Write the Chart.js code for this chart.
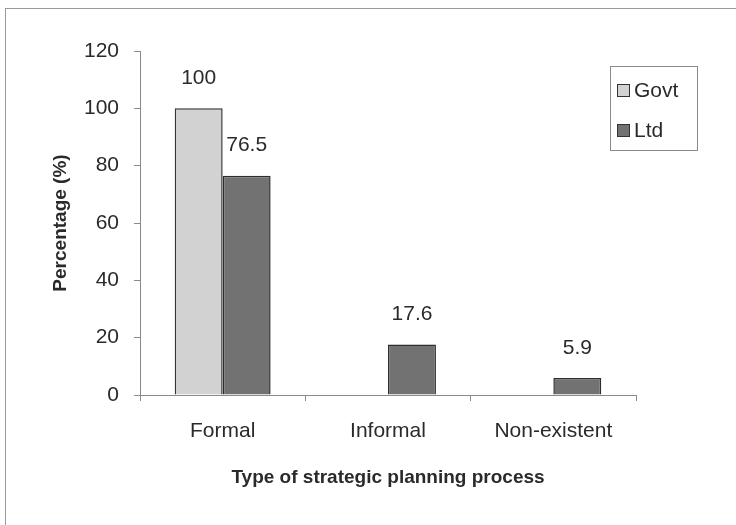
<!DOCTYPE html>
<html>
<head>
<meta charset="utf-8">
<script src="https://cdn.jsdelivr.net/npm/chart.js@4"></script>
<style>
  html, body { margin: 0; padding: 0; background: #fff; }
  #wrap { width: 736px; height: 525px; position: relative; }
</style>
</head>
<body>
<div id="wrap"><canvas id="planChart" width="736" height="525"></canvas></div>
<script>
const categories = ["Formal", "Informal", "Non-existent"];
const govtValues = [100, 0, 0];
const ltdValues = [76.5, 17.6, 5.9];
const seriesNames = ["Govt", "Ltd"];
const yTicks = [0, 20, 40, 60, 80, 100, 120];

const FONT = "'Liberation Sans', Arial, sans-serif";
const TEXT = "#2a2a2a";

// frame around the whole figure, value labels and the boxed legend
const decorations = {
    id: "decorations",
    beforeDraw(chart) {
        const ctx = chart.ctx;
        ctx.save();
        ctx.strokeStyle = "#9a9a9a";
        ctx.lineWidth = 1;
        ctx.strokeRect(5.5, 8.5, 760, 540);
        ctx.restore();
    },
    afterDatasetsDraw(chart) {
        const ctx = chart.ctx;
        ctx.save();
        ctx.font = "21px " + FONT;
        ctx.fillStyle = TEXT;
        ctx.textAlign = "center";
        ctx.textBaseline = "middle";
        chart.data.datasets.forEach((ds, i) => {
            chart.getDatasetMeta(i).data.forEach((bar, j) => {
                const v = ds.data[j];
                if (!v) return;
                ctx.fillText(String(v), bar.x, bar.y - 30);
            });
        });

        // legend box
        const bx = 610, by = 66, bw = 87, bh = 84;
        ctx.strokeStyle = "#8a8a8a";
        ctx.lineWidth = 1;
        ctx.strokeRect(bx + 0.5, by + 0.5, bw, bh);
        ctx.textAlign = "left";
        chart.data.datasets.forEach((ds, i) => {
            const cy = 90 + i * 40;
            ctx.fillStyle = ds.backgroundColor;
            ctx.fillRect(617, cy - 6, 13, 13);
            ctx.strokeStyle = "#333";
            ctx.strokeRect(617.5, cy - 5.5, 12, 12);
            ctx.fillStyle = TEXT;
            ctx.fillText(ds.label, 634, cy + 1);
        });
        ctx.restore();
    }
};

new Chart(document.getElementById("planChart"), {
    type: "bar",
    data: {
        labels: categories,
        datasets: [
            {
                label: seriesNames[0],
                data: govtValues,
                backgroundColor: "#d2d2d2",
                borderColor: "#333333",
                borderWidth: ctx => (ctx.raw ? 1.5 : 0)
            },
            {
                label: seriesNames[1],
                data: ltdValues,
                backgroundColor: "#727272",
                borderColor: "#2e2e2e",
                borderWidth: ctx => (ctx.raw ? 1.5 : 0)
            }
        ]
    },
    options: {
        responsive: false,
        animation: false,
        categoryPercentage: 0.58,
        barPercentage: 1,
        layout: {
            padding: { left: 5, right: 100, top: 51, bottom: 0 }
        },
        plugins: {
            legend: { display: false },
            tooltip: { enabled: false }
        },
        scales: {
            x: {
                afterFit: s => { s.height = 130; },
                grid: {
                    drawOnChartArea: false,
                    drawTicks: true,
                    tickLength: 6,
                    color: "#8a8a8a"
                },
                border: { color: "#8a8a8a" },
                ticks: {
                    padding: 18,
                    color: TEXT,
                    font: { family: FONT, size: 21 }
                },
                title: {
                    display: true,
                    text: "Type of strategic planning process",
                    color: TEXT,
                    font: { family: FONT, size: 19, weight: "bold" },
                    padding: { top: 0, bottom: 36 }
                }
            },
            y: {
                min: 0,
                max: 120,
                afterFit: s => { s.width = 135; },
                afterBuildTicks: s => { s.ticks = yTicks.map(v => ({ value: v })); },
                grid: {
                    drawOnChartArea: false,
                    drawTicks: true,
                    tickLength: 6,
                    color: "#8a8a8a"
                },
                border: { color: "#8a8a8a" },
                ticks: {
                    padding: 15,
                    color: TEXT,
                    font: { family: FONT, size: 21 }
                },
                title: {
                    display: true,
                    text: "Percentage (%)",
                    color: TEXT,
                    font: { family: FONT, size: 19, weight: "bold" },
                    padding: { top: 44, bottom: 0 }
                }
            }
        }
    },
    plugins: [decorations]
});
</script>
</body>
</html>
